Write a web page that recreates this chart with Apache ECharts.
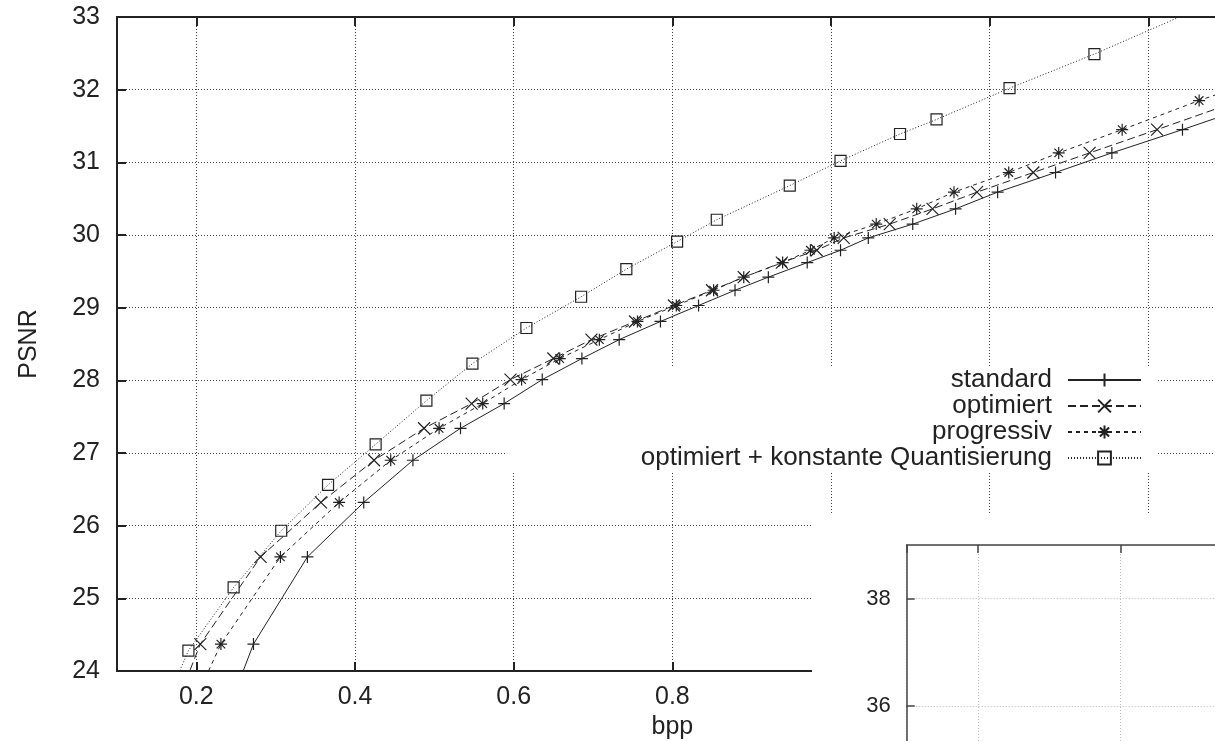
<!DOCTYPE html>
<html>
<head>
<meta charset="utf-8">
<script src="https://cdn.jsdelivr.net/npm/echarts@6/dist/echarts.min.js"></script>
<style>
  html, body { margin: 0; padding: 0; background: #fff; }
  #chart { width: 1215px; height: 741px; }
</style>
</head>
<body>
<div id="chart"></div>
<script>
var bppStandard  = [0.238, 0.272, 0.340, 0.411, 0.473, 0.533, 0.588, 0.636, 0.686, 0.733, 0.785, 0.833, 0.879, 0.921, 0.970, 1.012, 1.047, 1.103, 1.157, 1.210, 1.283, 1.354, 1.443, 1.55]
var psnrStandard = [23.4, 24.37, 25.57, 26.32, 26.90, 27.34, 27.68, 28.01, 28.30, 28.56, 28.81, 29.03, 29.24, 29.42, 29.62, 29.79, 29.96, 30.15, 30.36, 30.59, 30.86, 31.13, 31.45, 31.85]

var bppOptimiert  = [0.170, 0.205, 0.281, 0.357, 0.424, 0.487, 0.547, 0.596, 0.650, 0.698, 0.753, 0.802, 0.850, 0.890, 0.938, 0.982, 1.016, 1.074, 1.128, 1.184, 1.255, 1.326, 1.411, 1.515]
var psnrOptimiert = [23.4, 24.37, 25.57, 26.32, 26.90, 27.34, 27.68, 28.01, 28.30, 28.56, 28.81, 29.03, 29.24, 29.42, 29.62, 29.79, 29.96, 30.15, 30.36, 30.59, 30.86, 31.13, 31.45, 31.85]

var bppProgressiv  = [0.190, 0.231, 0.306, 0.380, 0.445, 0.506, 0.561, 0.610, 0.658, 0.708, 0.756, 0.805, 0.852, 0.890, 0.939, 0.974, 1.004, 1.057, 1.108, 1.155, 1.224, 1.287, 1.367, 1.464, 1.57]
var psnrProgressiv = [23.4, 24.37, 25.57, 26.32, 26.90, 27.34, 27.68, 28.01, 28.30, 28.56, 28.81, 29.03, 29.24, 29.42, 29.62, 29.79, 29.96, 30.15, 30.36, 30.59, 30.86, 31.13, 31.45, 31.85, 32.25]

var bppQuant  = [0.155, 0.190, 0.247, 0.307, 0.366, 0.426, 0.490, 0.548, 0.616, 0.685, 0.742, 0.806, 0.856, 0.948, 1.012, 1.087, 1.133, 1.225, 1.332, 1.46]
var psnrQuant = [23.4, 24.28, 25.15, 25.93, 26.56, 27.12, 27.72, 28.23, 28.72, 29.15, 29.53, 29.91, 30.21, 30.68, 31.02, 31.39, 31.59, 32.02, 32.49, 33.1]

var seriesNames = ['standard', 'optimiert', 'progressiv', 'optimiert + konstante Quantisierung']

function pairs(xs, ys) {
  var out = []
  for (var i = 0; i < xs.length; i++) out.push([xs[i], ys[i]])
  return out
}

var ink = '#222'
var font = '"Liberation Sans", Arial, sans-serif'
var fs = 25

// gnuplot-Punkttypen
var symPlus  = 'path://M0,-7L0,7M-7,0L7,0'
var symCross = 'path://M-7,-7L7,7M-7,7L7,-7'
var symStar  = 'path://M0,-7L0,7M-7,0L7,0M-5,-5L5,5M-5,5L5,-5'
var symBox   = 'path://M-6,-6L6,-6L6,6L-6,6Z'

function lineSeries(name, data, sym, size, dash) {
  return {
    name: name,
    type: 'line',
    data: data,
    symbol: sym,
    symbolSize: size,
    showAllSymbol: true,
    clip: true,
    lineStyle: { color: ink, width: 1, type: dash },
    itemStyle: { color: 'rgba(0,0,0,0)', borderColor: ink, borderWidth: 1.2 },
    emphasis: { disabled: true }
  }
}

var gridDots = { color: '#444', width: 1, type: [1, 2] }

var chart = echarts.init(document.getElementById('chart'))
var option = {
  animation: false,
  backgroundColor: '#fff',
  textStyle: { fontFamily: font, color: ink },
  grid: [
    { left: 117, top: 17, width: 1110.7, height: 654, outerBoundsMode: 'none' },
    { left: 906.7, top: 545, width: 998, height: 268.3, outerBoundsMode: 'none' }
  ],
  xAxis: [
    {
      gridIndex: 0, type: 'value', min: 0.1, max: 1.5, splitNumber: 7, position: 'bottom',
      name: 'bpp', nameLocation: 'middle', nameGap: 41,
      nameTextStyle: { fontSize: fs, color: ink, fontFamily: font },
      axisLine: { onZero: false, lineStyle: { color: ink, width: 2 } },
      axisTick: { inside: true, length: 9, lineStyle: { color: ink, width: 2 } },
      axisLabel: { fontSize: fs, color: ink, fontFamily: font, margin: 14, showMinLabel: false, showMaxLabel: false },
      splitLine: { show: true, lineStyle: gridDots }
    },
    {
      gridIndex: 0, type: 'value', min: 0.1, max: 1.5, splitNumber: 7, position: 'top',
      axisLine: { onZero: false, lineStyle: { color: ink, width: 2 } },
      axisTick: { inside: true, length: 9, lineStyle: { color: ink, width: 2 } },
      axisLabel: { show: false },
      splitLine: { show: false }
    },
    {
      gridIndex: 1, type: 'value', min: 0.1, max: 1.5, splitNumber: 7, position: 'top', z: 10,
      axisLine: { onZero: false, lineStyle: { color: '#444', width: 1.5 } },
      axisTick: { inside: true, length: 8, lineStyle: { color: '#444', width: 1.5 } },
      axisLabel: { show: false },
      splitLine: { show: true, lineStyle: { color: '#bbb', width: 1, type: [1, 2] } }
    }
  ],
  yAxis: [
    {
      gridIndex: 0, type: 'value', min: 24, max: 33, interval: 1,
      name: 'PSNR', nameLocation: 'middle', nameGap: 75, nameRotate: 90,
      nameTextStyle: { fontSize: fs, color: ink, fontFamily: font },
      axisLine: { onZero: false, lineStyle: { color: ink, width: 2 } },
      axisTick: { inside: true, length: 9, lineStyle: { color: ink, width: 2 } },
      axisLabel: { fontSize: fs, color: ink, fontFamily: font, margin: 17 },
      splitLine: { show: true, lineStyle: gridDots }
    },
    {
      gridIndex: 1, type: 'value', min: 34, max: 39, interval: 2, z: 10,
      axisLine: { onZero: false, lineStyle: { color: '#444', width: 1.5 } },
      axisTick: { inside: true, length: 8, lineStyle: { color: '#444', width: 1.5 } },
      axisLabel: { fontSize: 22, color: ink, fontFamily: font, margin: 16, showMaxLabel: false },
      splitLine: { show: true, lineStyle: { color: '#bbb', width: 1, type: [1, 2] } }
    }
  ],
  legend: {
    data: seriesNames,
    orient: 'vertical',
    align: 'right',
    right: 73,
    top: 367,
    padding: 0,
    itemGap: 0,
    itemWidth: 73,
    itemHeight: 16,
    selectedMode: false,
    textStyle: { fontSize: 26, color: ink, fontFamily: font, lineHeight: 26, padding: [0, 11, 0, 0] }
  },
  graphic: [
    // weisser Hintergrund der Legende (verdeckt das Gitter)
    { type: 'rect', z: 1, silent: true, shape: { x: 506, y: 367, width: 652, height: 106 }, style: { fill: '#fff' } },
    // Nachbarplot unten rechts
    { type: 'rect', z: 8, silent: true, shape: { x: 812, y: 515, width: 403, height: 226 }, style: { fill: '#fff' } }
  ],
  series: [
    lineSeries(seriesNames[0], pairs(bppStandard, psnrStandard), symPlus, 12, 'solid'),
    lineSeries(seriesNames[1], pairs(bppOptimiert, psnrOptimiert), symCross, 12, [8, 4]),
    lineSeries(seriesNames[2], pairs(bppProgressiv, psnrProgressiv), symStar, 12, [4, 4]),
    lineSeries(seriesNames[3], pairs(bppQuant, psnrQuant), symBox, 11, [1, 2])
  ]
}
chart.setOption(option)
</script>
</body>
</html>
